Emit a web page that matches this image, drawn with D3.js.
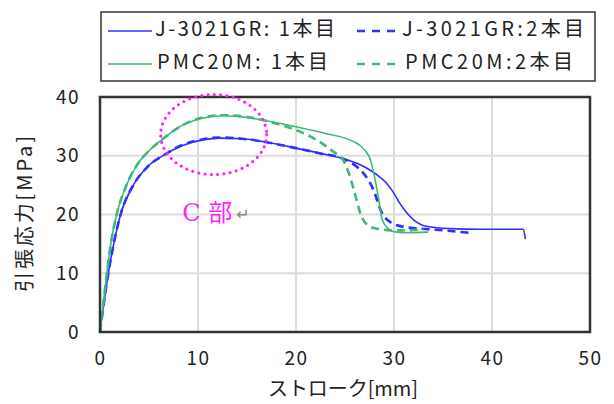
<!DOCTYPE html>
<html>
<head>
<meta charset="utf-8">
<script src="https://cdn.jsdelivr.net/npm/d3@7"></script>
<style>
  body { margin: 0; background: #fff; }
  text { font-family: "Noto Sans CJK JP", "DejaVu Sans", sans-serif; fill: #222; }
</style>
</head>
<body>
<div id="chart"></div>
<script>
// tick labels
var xTicks = [0, 10, 20, 30, 40, 50];
var yTicks = [0, 10, 20, 30, 40];

// J-3021GR : 1本目 (solid blue)
var j1Stroke = [0, 0.4, 0.85, 1.4, 2.1, 3.4, 4.9, 6.6, 8.5, 10.5, 12.2, 14.5, 17, 20, 22.5, 24.8, 26.5, 27.7, 28.6, 29.3, 30.0, 30.6, 31.3, 32.0, 33.3, 35.7, 39, 43.2, 43.4];
var j1Stress = [0, 5, 10, 15, 20, 25, 28.2, 30.2, 31.8, 32.7, 33.0, 32.9, 32.3, 31.3, 30.4, 29.5, 28.5, 27.4, 26.3, 25.2, 23.6, 21.9, 20.3, 19.1, 18.0, 17.6, 17.5, 17.5, 15.8];

// J-3021GR : 2本目 (dashed blue)
var j2Stroke = [0, 0.4, 0.85, 1.4, 2.1, 3.4, 4.9, 6.6, 8.5, 10.5, 12.2, 14.5, 17, 20, 22.5, 24.8, 26.0, 26.9, 27.9, 28.7, 29.8, 31, 32.7, 35, 37.6];
var j2Stress = [0, 5, 10, 15, 20, 25, 28.2, 30.2, 31.9, 32.8, 33.1, 32.9, 32.3, 31.3, 30.4, 29.5, 28.4, 27.0, 24.2, 20.5, 18.5, 17.9, 17.6, 17.3, 16.9];

// PMC20M : 1本目 (solid green)
var p1Stroke = [0, 0.35, 0.7, 1.1, 1.7, 2.7, 3.8, 5.1, 6.3, 8.2, 10.2, 12.6, 15, 17.5, 20.1, 23, 25.9, 27.0, 27.6, 28.0, 28.4, 28.8, 29.3, 29.9, 31, 33.5];
var p1Stress = [0, 5, 10, 15, 20, 25, 28.5, 31, 32.7, 35, 36.3, 36.8, 36.5, 35.8, 34.9, 33.8, 32.4, 31.0, 29.3, 26.5, 23.0, 19.1, 17.8, 17.1, 16.9, 17.0];

// PMC20M : 2本目 (dashed green)
var p2Stroke = [0, 0.35, 0.7, 1.1, 1.7, 2.7, 3.8, 5.1, 6.3, 8.2, 10.2, 12.6, 15, 17, 20.4, 22.1, 23.8, 24.8, 25.4, 25.9, 26.7, 27.3, 28.1, 29.9, 31.5, 33];
var p2Stress = [0, 5, 10, 15, 20, 25, 28.5, 31, 32.7, 35, 36.4, 36.9, 36.6, 35.9, 34.1, 32.7, 30.7, 29.3, 27.0, 24.2, 19.6, 18.2, 17.65, 17.3, 17.3, 17.5];

var seriesNames = ["J-3021GR: 1本目", "J-3021GR:2本目", "PMC20M: 1本目", "PMC20M:2本目"];
var seriesColors = ["#2f2fff", "#2f2fff", "#3cb878", "#3cb878"];

var series = [
  {name: seriesNames[0], xs: j1Stroke, ys: j1Stress, color: seriesColors[0], dash: null},
  {name: seriesNames[1], xs: j2Stroke, ys: j2Stress, color: seriesColors[1], dash: "8,5"},
  {name: seriesNames[2], xs: p1Stroke, ys: p1Stress, color: seriesColors[2], dash: null},
  {name: seriesNames[3], xs: p2Stroke, ys: p2Stress, color: seriesColors[3], dash: "8,5"}
];

var W = 614, H = 404;
var margin = {top: 97, right: 24, bottom: 72, left: 100},
  width = W - margin.left - margin.right,
  height = H - margin.top - margin.bottom;

var svg = d3.select("#chart")
  .append("svg")
  .attr("width", W)
  .attr("height", H);

var g = svg.append("g")
  .attr("transform", "translate(" + margin.left + "," + margin.top + ")");

var x = d3.scaleLinear().domain([0, 50]).range([0, width]);
var y = d3.scaleLinear().domain([0, 40]).range([height, 0]);

// grid
g.selectAll(".gx")
  .data(xTicks.slice(1, -1))
  .enter().append("line")
  .attr("x1", d => x(d)).attr("x2", d => x(d))
  .attr("y1", 0).attr("y2", height)
  .attr("stroke", "#dcdcdc").attr("stroke-width", 2);

g.selectAll(".gy")
  .data(yTicks.slice(1, -1))
  .enter().append("line")
  .attr("x1", 0).attr("x2", width)
  .attr("y1", d => y(d)).attr("y2", d => y(d))
  .attr("stroke", "#dcdcdc").attr("stroke-width", 2);

// axes labels
var xAxis = g.append("g")
  .attr("transform", "translate(0," + height + ")")
  .call(d3.axisBottom(x).tickValues(xTicks).tickSize(0).tickPadding(20).tickFormat(d3.format("d")));
xAxis.select(".domain").remove();
xAxis.selectAll("text")
  .style("font-size", "19px").style("letter-spacing", "1.5px")
  .attr("fill", "#222");

var yAxis = g.append("g")
  .call(d3.axisLeft(y).tickValues(yTicks).tickSize(0).tickPadding(20).tickFormat(d3.format("d")));
yAxis.select(".domain").remove();
yAxis.selectAll("text")
  .style("font-size", "19px").style("letter-spacing", "1.5px")
  .attr("fill", "#222");

// lines
var line = d3.line()
  .x(d => x(d[0]))
  .y(d => y(d[1]))
  .curve(d3.curveMonotoneX);

series.forEach(function(s) {
  var pts = s.xs.map((v, i) => [v, s.ys[i]]);
  g.append("path")
    .datum(pts)
    .attr("d", line)
    .attr("fill", "none")
    .attr("stroke", s.color)
    .attr("stroke-width", s.dash ? 2.6 : 1.6)
    .attr("stroke-dasharray", s.dash);
});

// plot frame
g.append("rect")
  .attr("x", 0).attr("y", 0)
  .attr("width", width).attr("height", height)
  .attr("fill", "none")
  .attr("stroke", "#333")
  .attr("stroke-width", 2.5);

// C部 highlight
g.append("ellipse")
  .attr("cx", x(11.6)).attr("cy", y(33.6))
  .attr("rx", 53).attr("ry", 40)
  .attr("fill", "none")
  .attr("stroke", "#ff22ff")
  .attr("stroke-width", 3.2)
  .attr("stroke-linecap", "round")
  .attr("stroke-dasharray", "0,6.3");

g.append("text")
  .attr("x", x(8.4)).attr("y", y(20.0))
  .attr("dominant-baseline", "middle")
  .style("font-family", "'DejaVu Serif', 'Noto Sans CJK JP', serif")
  .style("font-size", "24px")
  .style("fill", "#ff22ff")
  .text("C 部");

g.append("text")
  .attr("x", x(13.9)).attr("y", y(19.8))
  .attr("dominant-baseline", "middle")
  .style("font-size", "16px")
  .style("fill", "#888")
  .text("↵");

// axis titles
svg.append("text")
  .attr("x", 343).attr("y", 391)
  .attr("text-anchor", "middle")
  .attr("dominant-baseline", "middle")
  .attr("textLength", 150)
  .style("font-size", "20px")
  .text("ストローク[mm]");

svg.append("text")
  .attr("transform", "translate(27,214) rotate(-90)")
  .attr("text-anchor", "middle")
  .attr("dominant-baseline", "middle")
  .attr("textLength", 156)
  .style("font-size", "20px")
  .text("引張応力[MPa]");

// legend
var legend = svg.append("g");
legend.append("rect")
  .attr("x", 101).attr("y", 12)
  .attr("width", 494).attr("height", 69)
  .attr("fill", "#fff")
  .attr("stroke", "#333")
  .attr("stroke-width", 1.5);

var legPos = [
  {lx: 108, tx: 155, ty: 31, tw: 180},
  {lx: 357, tx: 402, ty: 31, tw: 182},
  {lx: 108, tx: 157, ty: 64, tw: 171},
  {lx: 357, tx: 405, ty: 64, tw: 168}
];

series.forEach(function(s, i) {
  var p = legPos[i];
  legend.append("line")
    .attr("x1", p.lx).attr("x2", p.lx + 44)
    .attr("y1", p.ty).attr("y2", p.ty)
    .attr("stroke", s.color)
    .attr("stroke-width", s.dash ? 2.6 : 1.6)
    .attr("stroke-dasharray", s.dash ? "8,7" : null);
  legend.append("text")
    .attr("x", p.tx).attr("y", p.ty)
    .attr("dominant-baseline", "middle")
    .attr("textLength", p.tw)
    .attr("lengthAdjust", "spacing")
    .style("font-size", "20px")
    .text(s.name);
});
</script>
</body>
</html>
